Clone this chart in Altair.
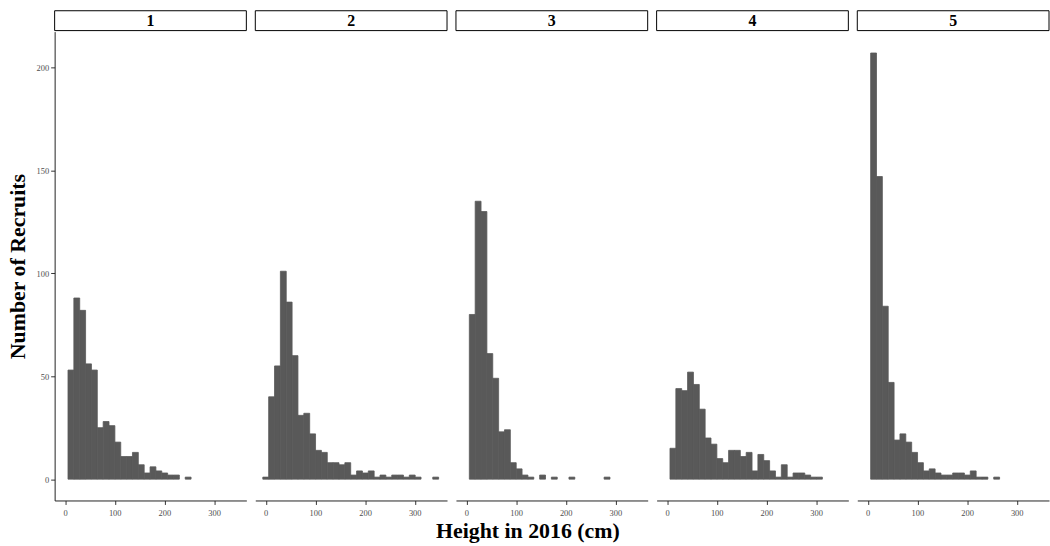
import altair as alt
import pandas as pd

# Facet panels (strip labels)
PANELS = ["1", "2", "3", "4", "5"]

# Histogram bins shared by all panels (ggplot default: 30 bins, first centred on 0)
BIN_START = -5.9
BIN_WIDTH = 11.8

# Counts per bin (bins 0..29)
COUNTS_1 = [0, 53, 88, 82, 56, 53, 25, 28, 26, 18, 11, 11, 13, 7, 3, 6, 4, 3, 2, 2, 0, 1, 0, 0, 0, 0, 0, 0, 0, 0]
COUNTS_2 = [1, 40, 55, 101, 86, 60, 31, 32, 22, 14, 13, 8, 8, 7, 8, 2, 4, 3, 4, 1, 2, 1, 2, 2, 1, 2, 1, 0, 0, 1]
COUNTS_3 = [0, 80, 135, 130, 61, 49, 23, 24, 8, 5, 2, 1, 0, 2, 0, 1, 0, 0, 1, 0, 0, 0, 0, 0, 1, 0, 0, 0, 0, 0]
COUNTS_4 = [0, 15, 44, 43, 52, 46, 34, 20, 17, 10, 8, 14, 14, 11, 13, 4, 12, 9, 4, 1, 7, 1, 3, 3, 2, 1, 1, 0, 0, 0]
COUNTS_5 = [0, 207, 147, 84, 47, 19, 22, 18, 13, 8, 4, 5, 3, 2, 2, 3, 3, 2, 4, 1, 1, 0, 1, 0, 0, 0, 0, 0, 0, 0]

ALL_COUNTS = [COUNTS_1, COUNTS_2, COUNTS_3, COUNTS_4, COUNTS_5]

X_TICKS = [0, 100, 200, 300]
Y_TICKS = [0, 50, 100, 150, 200]

SERIF = "Liberation Serif"
BAR_COLOR = "#595959"
PANEL_W = 193
PANEL_H = 472

x_scale = alt.Scale(domain=[-21, 365], nice=False, zero=False)
y_scale = alt.Scale(domain=[-10.35, 217.4], nice=False, zero=False)

panels = []
for i, (label, counts) in enumerate(zip(PANELS, ALL_COUNTS)):
    rows = []
    for k, c in enumerate(counts):
        if c > 0:
            rows.append({
                "panel": label,
                "x0": BIN_START + k * BIN_WIDTH,
                "x1": BIN_START + (k + 1) * BIN_WIDTH,
                "count": c,
                "zero": 0,
            })
    df = pd.DataFrame(rows)

    if i == 0:
        y_axis = alt.Axis(values=Y_TICKS, title="Number of Recruits", grid=False,
                          titleFont=SERIF, titleFontSize=22, titleFontWeight="bold",
                          titleColor="black", titlePadding=7,
                          labelFont=SERIF, labelFontSize=8.5, labelColor="#4d4d4d",
                          tickColor="#333333", tickSize=4, domainColor="#222222",
                          domainWidth=1)
    else:
        y_axis = None

    bars = alt.Chart(df).mark_rect(color=BAR_COLOR, stroke=BAR_COLOR, strokeWidth=0.8).encode(
        x=alt.X("x0:Q", scale=x_scale,
                axis=alt.Axis(values=X_TICKS, title=None, grid=False,
                              labelFont=SERIF, labelFontSize=8.5, labelColor="#4d4d4d",
                              tickColor="#333333", tickSize=4, domainColor="#222222",
                              domainWidth=1, labelPadding=4)),
        x2="x1:Q",
        y=alt.Y("count:Q", scale=y_scale, axis=y_axis),
        y2="zero:Q",
    )

    strip_df = pd.DataFrame({"panel": [label]})
    strip = alt.Chart(strip_df).mark_rect(fill="white", stroke="black", strokeWidth=1).encode(
        x=alt.value(0), x2=alt.value(PANEL_W), y=alt.value(-21), y2=alt.value(-1)
    )
    strip_text = alt.Chart(strip_df).mark_text(
        font=SERIF, fontSize=16, fontWeight="bold", color="black", baseline="middle", align="center"
    ).encode(x=alt.value(PANEL_W / 2), y=alt.value(-11), text="panel:N")

    panels.append(alt.layer(bars, strip, strip_text).properties(width=PANEL_W, height=PANEL_H))

chart = alt.hconcat(*panels, spacing=7).properties(
    padding={"left": 6, "top": 8, "right": 0, "bottom": 0},
    title=alt.TitleParams("Height in 2016 (cm)", orient="bottom", anchor="middle",
                          font=SERIF, fontSize=22, fontWeight="bold", color="black", offset=4),
).configure_view(stroke=None)

chart.save("out.html", embed_options={"renderer": "svg", "actions": False})
